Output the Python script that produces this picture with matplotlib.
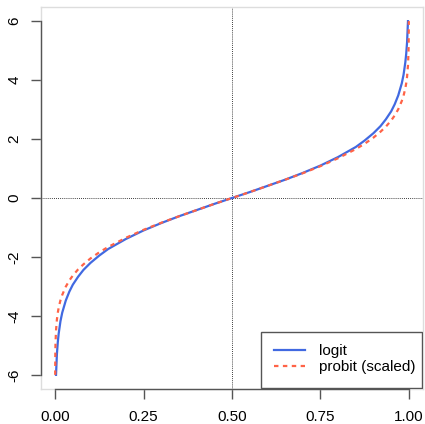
import matplotlib
matplotlib.use("Agg")
import matplotlib.pyplot as plt
from matplotlib.patches import Rectangle

plt.rcParams['font.family'] = ['Liberation Sans', 'DejaVu Sans']

# values (lower half, then upper half)
p_logit = [0.00247, 0.0025, 0.005, 0.0075, 0.01, 0.015, 0.02, 0.03, 0.04, 0.05,
           0.065, 0.08, 0.1, 0.125, 0.15, 0.2, 0.25, 0.3, 0.35, 0.4, 0.45, 0.5,
           0.55, 0.6, 0.65, 0.7, 0.75, 0.8, 0.85, 0.875, 0.9, 0.92, 0.935, 0.95,
           0.96, 0.97, 0.98, 0.985, 0.99, 0.9925, 0.995, 0.9975, 0.99753]
logit = [-6.0, -5.99, -5.29, -4.89, -4.60, -4.18, -3.89, -3.48, -3.18, -2.94,
         -2.67, -2.44, -2.20, -1.95, -1.73, -1.39, -1.10, -0.85, -0.62, -0.41, -0.20, 0.0,
         0.20, 0.41, 0.62, 0.85, 1.10, 1.39, 1.73, 1.95, 2.20, 2.44, 2.67, 2.94,
         3.18, 3.48, 3.89, 4.18, 4.60, 4.89, 5.29, 5.99, 6.0]

p_probit = [0.000088, 0.0005, 0.001, 0.0025, 0.005, 0.0075, 0.01, 0.015, 0.02, 0.03,
            0.04, 0.05, 0.065, 0.08, 0.1, 0.125, 0.15, 0.2, 0.25, 0.3, 0.35, 0.4, 0.45, 0.5,
            0.55, 0.6, 0.65, 0.7, 0.75, 0.8, 0.85, 0.875, 0.9, 0.92, 0.935, 0.95,
            0.96, 0.97, 0.98, 0.985, 0.99, 0.9925, 0.995, 0.9975, 0.999, 0.9995, 0.999912]
probit = [-6.0, -5.27, -4.94, -4.49, -4.12, -3.89, -3.72, -3.47, -3.29, -3.01,
          -2.80, -2.63, -2.42, -2.25, -2.05, -1.84, -1.66, -1.35, -1.08, -0.84, -0.62, -0.41, -0.20, 0.0,
          0.20, 0.41, 0.62, 0.84, 1.08, 1.35, 1.66, 1.84, 2.05, 2.25, 2.42, 2.63,
          2.80, 3.01, 3.29, 3.47, 3.72, 3.89, 4.12, 4.49, 4.94, 5.27, 6.0]

xticks = [0.0, 0.25, 0.5, 0.75, 1.0]
xticklabels = ["0.00", "0.25", "0.50", "0.75", "1.00"]
yticks = [-6, -4, -2, 0, 2, 4, 6]

fig = plt.figure(figsize=(4.25, 4.24), dpi=100)
ax = fig.add_axes([41/425, 1 - 389/424, 382/425, 382/424])

ax.plot(p_logit, logit, color="#4169E1", lw=1.6, label="logit", zorder=3)
ax.plot(p_probit, probit, color="#FF6347", lw=1.6, dashes=(2, 2),
        label="probit (scaled)", zorder=4)

ax.axhline(0, color="black", lw=0.6, ls=(0, (1, 1.5)), zorder=2)
ax.axvline(0.5, color="black", lw=0.6, ls=(0, (1, 1.5)), zorder=2)

ax.set_xlim(-0.04, 1.04)
ax.set_ylim(-6.48, 6.48)

for s in ax.spines.values():
    s.set_color("#dddddd")
    s.set_linewidth(1.0)

# R-style axis lines spanning first to last tick
axc = "#555555"
ax.plot([-0.04, -0.04], [-6, 6], color=axc, lw=1.0, clip_on=False, zorder=5)
ax.plot([0, 1], [-6.48, -6.48], color=axc, lw=1.0, clip_on=False, zorder=5)

ax.set_xticks(xticks)
ax.set_xticklabels(xticklabels)
ax.set_yticks(yticks)
ax.set_yticklabels([str(v) for v in yticks], rotation=90, va="center")
ax.tick_params(axis="both", direction="out", length=7, width=1.0, color=axc,
               labelsize=11, labelcolor="black")
ax.tick_params(axis="x", pad=8)
ax.tick_params(axis="y", pad=7)

# legend box like R's, flush with the bottom-right corner
box = Rectangle((220/382, 1/382), 161/382, 56/382, transform=ax.transAxes,
                facecolor="white", edgecolor=axc, lw=1.0, zorder=6)
ax.add_patch(box)
leg = ax.legend(loc="center left", bbox_to_anchor=((274 - 41)/382, (389 - 359)/382),
                fontsize=11, frameon=False, borderpad=0, borderaxespad=0,
                handlelength=2.0, handletextpad=0.95, labelspacing=0.15)
leg.set_zorder(7)

fig.savefig("out.png", dpi=100)
